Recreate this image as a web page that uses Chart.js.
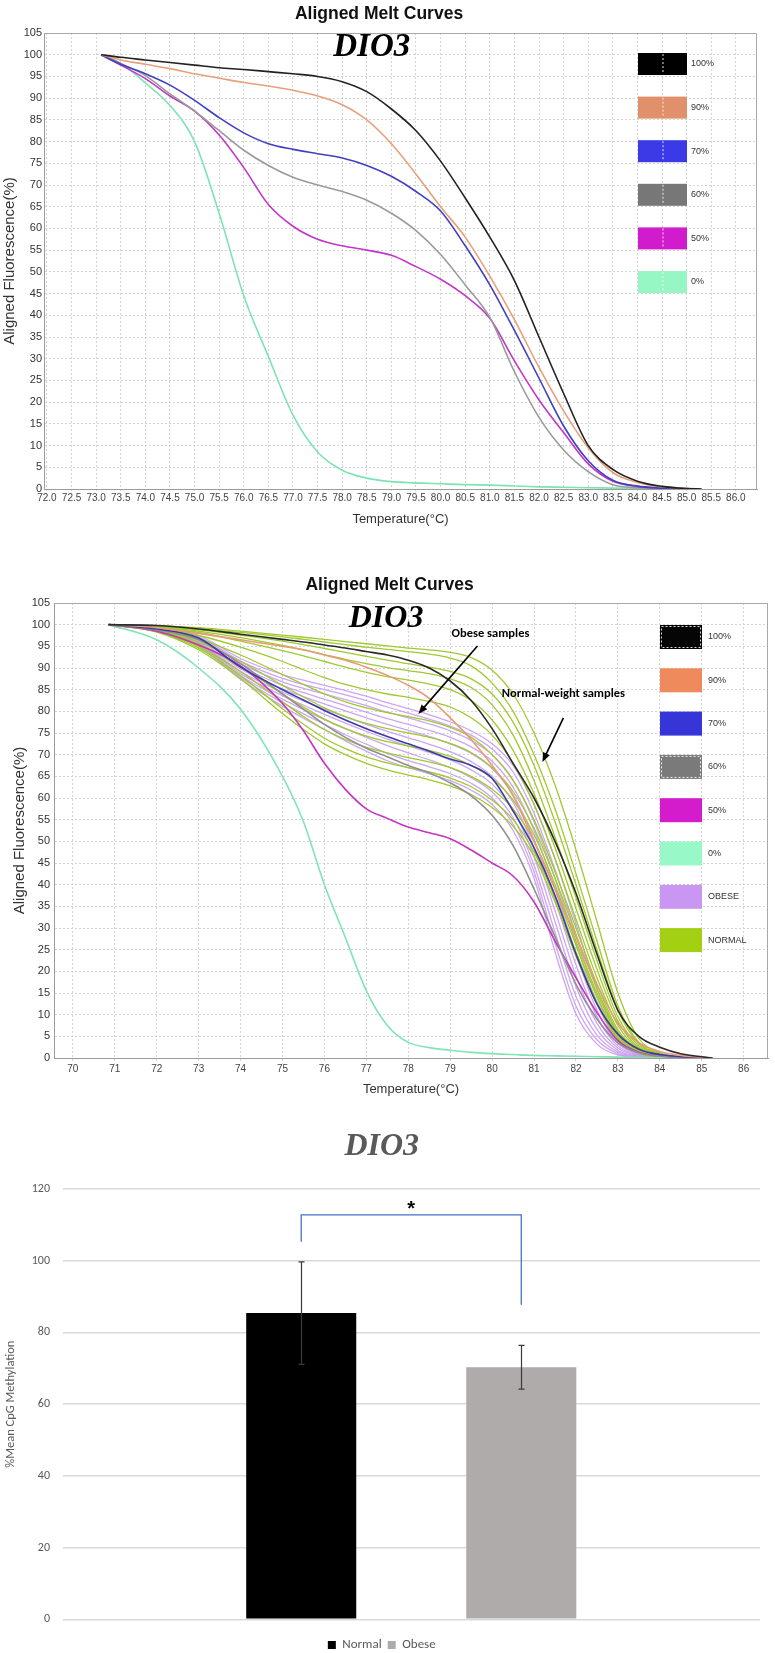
<!DOCTYPE html>
<html>
<head>
<meta charset="utf-8">
<script src="https://cdn.jsdelivr.net/npm/chart.js@4/dist/chart.umd.min.js"></script>
<style>
  html, body { margin: 0; padding: 0; background: #fff; overflow: hidden; }
  #page { position: relative; width: 775px; height: 1653px; }
  .panel { position: absolute; left: 0; }
</style>
</head>
<body>
<div id="page">
  <div class="panel" style="top:0"><canvas id="meltStd" width="775" height="530"></canvas></div>
  <div class="panel" style="top:560px"><canvas id="meltSamples" width="775" height="540"></canvas></div>
  <div class="panel" style="top:1110px"><canvas id="methBars" width="775" height="560"></canvas></div>
</div>
<script>
// ---- top panel: standards (temperature in °C, aligned fluorescence in %)
const tempsA = [73.1, 73.5, 74, 74.5, 75, 75.5, 76, 76.5, 77, 77.5, 78, 78.5, 79, 79.5, 80, 80.5, 81, 81.5, 82, 82.5, 83, 83.5, 84, 84.5, 85, 85.3];
const stdA100 = [100, 99.4, 98.8, 98.2, 97.6, 97, 96.6, 96.1, 95.6, 95, 93.8, 91.5, 87.5, 82.5, 75.5, 67, 58, 48, 35, 22, 10, 4.5, 1.8, 0.6, 0.1, 0];
const stdA90 = [100, 98.8, 97.8, 96.8, 95.6, 94.6, 93.6, 92.8, 91.8, 90.5, 88.5, 85, 79.5, 72.5, 65, 58, 49, 39, 28, 18, 9.5, 3.8, 1.5, 0.5, 0.1, 0];
const stdA70 = [100, 97.8, 95.6, 93, 89.5, 85.5, 82, 79.5, 78.2, 77.2, 76.2, 74.5, 72, 68.5, 64, 56, 47, 36.5, 25.5, 14.5, 6.5, 2, 0.6, 0.2, 0, 0];
const stdA60 = [100, 98, 95.2, 91, 87, 82.5, 78, 74.5, 71.8, 70, 68.5, 66.5, 63.5, 59.5, 54, 47, 39.5, 27, 16.5, 9, 4, 1, 0.3, 0.1, 0, 0];
const stdA50 = [100, 97.6, 94.5, 90.5, 87, 81.5, 74, 65.5, 60.5, 57.5, 56, 55, 53.8, 51.2, 48.3, 44.5, 39.3, 29.5, 20.5, 13, 5.8, 1.8, 0.7, 0.3, 0.1, 0];
const stdA0 = [100, 98, 93.5, 88.3, 80, 63.5, 44.5, 30.5, 17, 8.5, 4.3, 2.5, 1.7, 1.4, 1.2, 1, 0.9, 0.7, 0.5, 0.4, 0.3, 0.2, 0.1, 0, 0, 0];
const tickTempsA = [72, 72.5, 73, 73.5, 74, 74.5, 75, 75.5, 76, 76.5, 77, 77.5, 78, 78.5, 79, 79.5, 80, 80.5, 81, 81.5, 82, 82.5, 83, 83.5, 84, 84.5, 85, 85.5, 86];

// ---- middle panel: standards plus patient samples
const tempsB = [70.85, 72, 73, 74, 75, 75.5, 76, 76.5, 77, 77.5, 78, 78.5, 79, 79.5, 80, 80.5, 81, 81.5, 82, 82.5, 83, 83.5, 84, 84.5, 85.25];
const stdB100 = [100, 99.8, 99, 97.8, 96.6, 96, 95.3, 94.6, 93.8, 93, 91.8, 90, 87, 82.5, 76, 68, 60, 50, 38, 24, 11, 5, 2.5, 1, 0];
const stdB90 = [100, 99.3, 98, 96.5, 95, 94.2, 93, 91.8, 90.2, 88.3, 86, 83, 78.5, 73.5, 67.5, 60.5, 50, 39, 28, 17, 8, 3.5, 1.5, 0.6, 0];
const stdB70 = [100, 99, 96.9, 90.2, 85, 82.6, 80.2, 78, 76, 74.2, 72.5, 70.8, 69, 67.5, 64.5, 57, 48.5, 37.5, 24, 12.5, 5.5, 2, 0.8, 0.3, 0];
const stdB60 = [100, 98.8, 96.5, 91, 84, 80.5, 77, 74, 71.5, 69.5, 67.5, 65.8, 63.5, 60.5, 56, 49, 39, 28, 17, 9, 3.5, 1.2, 0.4, 0.1, 0];
const stdB50 = [100, 98.5, 95.3, 90.5, 81.8, 75.5, 68, 62, 57.5, 55.3, 53.3, 52, 50.6, 48, 45, 42, 36, 27, 18.5, 10.5, 4, 1.3, 0.5, 0.2, 0];
const stdB0 = [100, 96.5, 90, 80.5, 65, 54.5, 40, 27.8, 15.5, 7.5, 3.6, 2.4, 1.8, 1.3, 1, 0.8, 0.6, 0.5, 0.4, 0.3, 0.2, 0.1, 0.05, 0, 0];
const normalRuns = [
  [100, 99.8, 99.3, 98.5, 97.6, 97.1, 96.6, 96.1, 95.6, 95.1, 94.6, 94.2, 93.6, 92.4, 89.5, 84, 75, 63, 48, 31.5, 15, 4.5, 1.2, 0.3, 0],
  [100, 99.7, 99.1, 98.2, 97.2, 96.6, 96, 95.4, 94.8, 94.3, 93.8, 93.2, 92.3, 90.5, 86.5, 80, 70, 57.5, 42.5, 27, 12, 3.6, 1, 0.2, 0],
  [100, 99.6, 98.8, 97.6, 96.2, 95.4, 94.5, 93.6, 92.7, 91.8, 91, 90.2, 89.2, 87.5, 84, 77.5, 67.5, 54.5, 40, 25, 11, 3.2, 0.9, 0.2, 0],
  [100, 99.5, 98.5, 97, 95.2, 94.2, 93.1, 92, 91, 90.1, 89.4, 88.7, 87.5, 85.5, 81.5, 74.5, 64, 51, 37, 22.5, 9.5, 2.8, 0.8, 0.2, 0],
  [100, 99.4, 98.2, 96.2, 94, 92.8, 91.5, 90.2, 89, 88, 87.2, 86.3, 85, 82.5, 78, 71, 61, 48.5, 34.5, 20.5, 8.5, 2.4, 0.7, 0.2, 0],
  [100, 99.2, 97.5, 94.8, 91.5, 89.6, 87.8, 86.2, 85, 84, 83.2, 82.3, 81, 78.5, 74.5, 68, 58.5, 46, 32, 18.5, 7.5, 2.1, 0.6, 0.1, 0],
  [100, 99, 96.8, 93, 88.5, 86.2, 84, 82.2, 80.8, 79.7, 78.8, 77.8, 76.3, 74, 70, 64, 55, 43, 30, 17, 6.5, 1.9, 0.5, 0.1, 0],
  [100, 98.8, 96, 91.5, 86, 83.3, 80.8, 78.8, 77.2, 76, 75, 74, 72.6, 70.5, 67, 61.5, 53, 41.5, 28.5, 16, 6, 1.7, 0.5, 0.1, 0],
  [100, 98.6, 95.5, 90.3, 84, 81, 78.2, 76, 74.3, 73, 72, 71, 69.6, 67.5, 64.5, 59.5, 51.5, 40, 27, 15, 5.5, 1.5, 0.4, 0.1, 0],
  [100, 98.5, 95, 89.2, 82.2, 78.8, 75.8, 73.5, 71.7, 70.4, 69.3, 68.3, 67, 65, 62, 57.5, 50, 39, 26, 14.2, 5, 1.4, 0.4, 0.1, 0],
  [100, 98.4, 94.6, 88.2, 80.6, 77, 73.8, 71.4, 69.5, 68.1, 67, 66, 64.6, 62.6, 59.5, 55, 47.5, 37, 24.5, 13, 4.5, 1.2, 0.3, 0.1, 0],
  [100, 98.3, 94.2, 87.5, 79.5, 75.8, 72.5, 70, 68, 66.5, 65.3, 64.2, 62.8, 60.8, 57.8, 53.5, 46.5, 36, 23.5, 12.5, 4.2, 1.1, 0.3, 0.1, 0]
];
const obeseRuns = [
  [100, 99.4, 97.5, 92.2, 88.5, 87.2, 86, 84.8, 83.5, 82, 80.6, 79.2, 77.6, 75.5, 72.5, 67.5, 58.5, 46, 31, 16, 5.5, 1.3, 0.3, 0.1, 0],
  [100, 99.3, 97.2, 91.6, 87.6, 86.2, 85, 83.8, 82.5, 81, 79.6, 78.2, 76.6, 74.5, 71.3, 66, 56.5, 43.5, 28.5, 14, 4.6, 1.1, 0.3, 0.1, 0],
  [100, 99.2, 96.9, 91, 86.8, 85.3, 84, 82.7, 81.3, 79.8, 78.5, 77.1, 75.5, 73.3, 70, 64.2, 54.5, 41.5, 26.5, 12.6, 4, 0.9, 0.2, 0, 0],
  [100, 99.1, 96.6, 90.4, 86, 84.3, 82.8, 81.3, 79.8, 78.3, 77, 75.6, 74, 71.8, 68.5, 62.5, 52.5, 39, 24, 11, 3.4, 0.8, 0.2, 0, 0],
  [100, 99, 96.3, 89.8, 85.2, 83.4, 81.7, 80.1, 78.5, 77, 75.6, 74.2, 72.5, 70.3, 66.8, 60.8, 50.5, 36.5, 21.5, 9.5, 2.8, 0.6, 0.1, 0, 0],
  [100, 98.9, 96, 89.2, 84.4, 82.4, 80.5, 78.7, 77, 75.4, 73.9, 72.4, 70.7, 68.4, 65, 59, 48.5, 34, 19, 8, 2.3, 0.5, 0.1, 0, 0],
  [100, 98.8, 95.8, 88.7, 83.6, 81.4, 79.3, 77.3, 75.4, 73.6, 72, 70.5, 68.8, 66.5, 63.2, 57.2, 46.5, 31.5, 16.5, 6.6, 1.8, 0.4, 0.1, 0, 0],
  [100, 98.7, 95.5, 88.2, 82.8, 80.4, 78.1, 76, 74, 72.1, 70.4, 68.8, 67, 64.7, 61.4, 55.5, 44.5, 29, 14.2, 5.3, 1.4, 0.3, 0, 0, 0],
  [100, 98.6, 95.3, 87.8, 82, 79.4, 77, 74.6, 72.4, 70.3, 68.6, 67.2, 65.6, 63.4, 60, 54, 43, 26.5, 12, 4.2, 1, 0.2, 0, 0, 0],
  [100, 98.5, 95, 87.4, 81.2, 78.4, 75.8, 73.2, 70.8, 68.6, 67, 65.6, 64, 61.8, 58.5, 52.5, 41.5, 24.5, 10.2, 3.2, 0.7, 0.1, 0, 0, 0]
];
const tickTempsB = [70, 71, 72, 73, 74, 75, 76, 77, 78, 79, 80, 81, 82, 83, 84, 85, 86];

const stdLabels = ['100%', '90%', '70%', '60%', '50%', '0%'];
const sampleLabels = ['100%', '90%', '70%', '60%', '50%', '0%', 'OBESE', 'NORMAL'];

// ---- bottom panel: mean CpG methylation
const groups = ['Normal', 'Obese'];
const meanMethylation = [85.4, 70.3];
const errMethylation = [14.3, 6.1];
const bracketLevels = [105.3, 112.8, 87.7]; // left foot, top, right foot

const sans = "'Liberation Sans', Arial, sans-serif";
const serif = "'Liberation Serif', 'Times New Roman', serif";
const calibriLike = "Carlito, Lato, 'Liberation Sans', sans-serif";
Chart.defaults.font.family = sans;
Chart.defaults.animation = false;

function curve(temps, values, color, width) {
  return {
    data: temps.map((t, i) => ({ x: t, y: values[i] })),
    borderColor: color,
    borderWidth: width,
    pointRadius: 0,
    fill: false,
    cubicInterpolationMode: 'monotone'
  };
}

const frame = {
  id: 'frame',
  afterDraw(chart) {
    const { ctx, chartArea: a } = chart;
    ctx.save();
    ctx.strokeStyle = '#a8a8a8';
    ctx.lineWidth = 1;
    ctx.beginPath();
    ctx.moveTo(a.left, a.top + 0.5);
    ctx.lineTo(a.right - 0.5, a.top + 0.5);
    ctx.lineTo(a.right - 0.5, a.bottom);
    ctx.stroke();
    ctx.restore();
  }
};

function boxLegend(labels, colors, spec) {
  return {
    id: 'boxLegend',
    afterDraw(chart) {
      const { ctx, chartArea } = chart;
      ctx.save();
      labels.forEach((label, i) => {
        const x = chartArea.right - spec.right;
        const y = chartArea.top + spec.top + i * spec.step;
        ctx.fillStyle = colors[i];
        ctx.fillRect(x, y, spec.w, spec.h);
        ctx.strokeStyle = 'rgba(255,255,255,0.85)';
        ctx.lineWidth = 1;
        ctx.setLineDash([2, 2]);
        if (spec.centerLine) {
          ctx.beginPath();
          ctx.moveTo(x + spec.w / 2 + 0.5, y + 1);
          ctx.lineTo(x + spec.w / 2 + 0.5, y + spec.h - 1);
          ctx.stroke();
        }
        if (spec.dotted.includes(i)) {
          ctx.strokeRect(x + 1.5, y + 1.5, spec.w - 3, spec.h - 3);
        }
        ctx.setLineDash([]);
        ctx.fillStyle = '#333';
        ctx.font = spec.font;
        ctx.textAlign = 'left';
        ctx.textBaseline = 'middle';
        ctx.fillText(label, x + spec.w + spec.gap, y + spec.h / 2);
      });
      ctx.restore();
    }
  };
}

function notes(texts, arrows) {
  return {
    id: 'notes',
    afterDatasetsDraw(chart) {
      const { ctx, scales: { x, y } } = chart;
      ctx.save();
      texts.forEach(n => {
        ctx.font = n.font;
        ctx.fillStyle = '#000';
        ctx.textAlign = 'center';
        ctx.textBaseline = 'middle';
        ctx.fillText(n.text, x.getPixelForValue(n.at[0]), y.getPixelForValue(n.at[1]));
      });
      arrows.forEach(a => {
        const x1 = x.getPixelForValue(a.from[0]), y1 = y.getPixelForValue(a.from[1]);
        const x2 = x.getPixelForValue(a.to[0]), y2 = y.getPixelForValue(a.to[1]);
        const ang = Math.atan2(y2 - y1, x2 - x1);
        ctx.strokeStyle = '#000';
        ctx.fillStyle = '#000';
        ctx.lineWidth = 1.6;
        ctx.beginPath();
        ctx.moveTo(x1, y1);
        ctx.lineTo(x2 - 7 * Math.cos(ang), y2 - 7 * Math.sin(ang));
        ctx.stroke();
        ctx.beginPath();
        ctx.moveTo(x2, y2);
        ctx.lineTo(x2 - 10 * Math.cos(ang - 0.38), y2 - 10 * Math.sin(ang - 0.38));
        ctx.lineTo(x2 - 10 * Math.cos(ang + 0.38), y2 - 10 * Math.sin(ang + 0.38));
        ctx.closePath();
        ctx.fill();
      });
      ctx.restore();
    }
  };
}

function meltOptions(cfg) {
  return {
    responsive: false,
    animation: false,
    events: [],
    layout: { padding: cfg.pad },
    plugins: {
      legend: { display: false },
      tooltip: { enabled: false },
      title: {
        display: true,
        text: 'Aligned Melt Curves',
        color: '#111',
        font: { size: 17.5, weight: 'bold' },
        padding: cfg.titlePad
      }
    },
    scales: {
      x: {
        type: 'linear',
        min: cfg.xMin,
        max: cfg.xMax,
        afterBuildTicks: axis => { axis.ticks = cfg.xTicks.map(v => ({ value: v })); },
        afterFit: axis => { axis.height = cfg.xHeight; },
        ticks: {
          callback: cfg.xLabel,
          autoSkip: false,
          maxRotation: 0,
          color: '#444',
          font: { size: 10 },
          padding: cfg.xTickPad
        },
        grid: { color: '#d4d4d4', tickLength: cfg.xTickLen },
        border: { color: '#9c9c9c', dash: [2, 2] },
        title: { display: true, text: 'Temperature(°C)', color: '#333', font: { size: 13 }, padding: 0 }
      },
      y: {
        min: 0,
        max: 105,
        afterFit: axis => { axis.width = cfg.yWidth; },
        ticks: { stepSize: 5, autoSkip: false, color: '#333', font: { size: 11 }, padding: cfg.yTickPad },
        grid: { color: '#d4d4d4', drawTicks: false },
        border: { color: '#9c9c9c', dash: [2, 2] },
        title: { display: true, text: 'Aligned Fluorescence(%)', color: '#333', font: { size: 15 }, padding: 0 }
      }
    }
  };
}

// ---------- chart 1
const colorsA = ['#222222', '#e8a07a', '#4040c0', '#9a9a9a', '#c236c8', '#7ee3b2'];
const legendColorsA = ['#000000', '#e0906a', '#3a3ae6', '#777777', '#d01ccc', '#96f7c4'];
const valuesA = [stdA100, stdA90, stdA70, stdA60, stdA50, stdA0];

new Chart(document.getElementById('meltStd'), {
  type: 'line',
  data: { datasets: valuesA.map((v, i) => curve(tempsA, v, colorsA[i], 1.6)) },
  options: meltOptions({
    pad: { left: 1, right: 18, top: 0, bottom: 3.2 },
    titlePad: { top: 3.7, bottom: 8.3 },
    xMin: 71.94, xMax: 86.43, xTicks: tickTempsA,
    xLabel: v => Number(v).toFixed(1),
    xHeight: 37.8, xTickPad: 1, xTickLen: 2,
    yWidth: 43, yTickPad: 2
  }),
  plugins: [
    frame,
    boxLegend(stdLabels, legendColorsA, { right: 119, top: 20, step: 43.6, w: 49, h: 22, gap: 4, font: '9px ' + sans, centerLine: true, dotted: [] }),
    notes([{ text: 'DIO3', at: [78.6, 101.6], font: 'italic bold 33px ' + serif }], [])
  ]
});

// ---------- chart 2
const colorsB = ['#2a2a2a', '#e89a78', '#3a3aa8', '#8f8f8f', '#c533c0', '#80e4b4'];
const legendColorsB = ['#050505', '#ee8a5c', '#3535d8', '#7a7a7a', '#d41ccc', '#98f8c8', '#c996f2', '#a3d012'];
const valuesB = [stdB100, stdB90, stdB70, stdB60, stdB50, stdB0];
const obeseColor = 'rgba(200,155,238,0.9)';
const normalColor = '#9fc92e';

const datasetsB = valuesB.map((v, i) => curve(tempsB, v, colorsB[i], 1.6))
  .concat(normalRuns.map(v => curve(tempsB, v, normalColor, 1.3)))
  .concat(obeseRuns.map(v => curve(tempsB, v, obeseColor, 1.3)));

new Chart(document.getElementById('meltSamples'), {
  type: 'line',
  data: { datasets: datasetsB },
  options: meltOptions({
    pad: { left: 11, right: 7, top: 0, bottom: 3.2 },
    titlePad: { top: 14.5, bottom: 7.5 },
    xMin: 69.55, xMax: 86.58, xTicks: tickTempsB,
    xLabel: v => String(v),
    xHeight: 38.8, xTickPad: 2, xTickLen: 3,
    yWidth: 43, yTickPad: 4
  }),
  plugins: [
    frame,
    boxLegend(sampleLabels, legendColorsB, { right: 108, top: 22, step: 43.3, w: 42, h: 24, gap: 6, font: '9px ' + sans, centerLine: false, dotted: [0, 3] }),
    notes([
      { text: 'DIO3', at: [77.47, 101.4], font: 'italic bold 32px ' + serif },
      { text: 'Obese samples', at: [79.96, 97.9], font: 'bold 12.5px ' + calibriLike },
      { text: 'Normal-weight samples', at: [81.7, 84.0], font: 'bold 12.5px ' + calibriLike }
    ], [
      { from: [79.65, 95.1], to: [78.24, 79.4] },
      { from: [81.7, 78.5], to: [81.2, 68.3] }
    ])
  ]
});

// ---------- chart 3
const barColors = ['#000000', '#aeabaa'];

const errorBars = {
  id: 'errorBars',
  afterDatasetsDraw(chart) {
    const { ctx, scales: { y } } = chart;
    const xs = groups.map((g, i) => chart.getDatasetMeta(i).data[0].x);
    ctx.save();
    ctx.strokeStyle = '#3a3a3a';
    ctx.lineWidth = 1.2;
    xs.forEach((bx, i) => {
      const cx = Math.round(bx) + 0.5;
      const hi = y.getPixelForValue(meanMethylation[i] + errMethylation[i]);
      const lo = y.getPixelForValue(meanMethylation[i] - errMethylation[i]);
      ctx.beginPath();
      ctx.moveTo(cx, hi); ctx.lineTo(cx, lo);
      ctx.moveTo(cx - 3, hi); ctx.lineTo(cx + 3, hi);
      ctx.moveTo(cx - 3, lo); ctx.lineTo(cx + 3, lo);
      ctx.stroke();
    });
    // significance bracket
    const top = y.getPixelForValue(bracketLevels[1]);
    ctx.strokeStyle = '#4472c4';
    ctx.lineWidth = 1.3;
    ctx.beginPath();
    ctx.moveTo(xs[0], y.getPixelForValue(bracketLevels[0]));
    ctx.lineTo(xs[0], top);
    ctx.lineTo(xs[1], top);
    ctx.lineTo(xs[1], y.getPixelForValue(bracketLevels[2]));
    ctx.stroke();
    ctx.fillStyle = '#000';
    ctx.font = 'bold 20px ' + sans;
    ctx.textAlign = 'center';
    ctx.textBaseline = 'alphabetic';
    ctx.fillText('*', (xs[0] + xs[1]) / 2, top);
    ctx.restore();
  }
};

new Chart(document.getElementById('methBars'), {
  type: 'bar',
  data: {
    labels: [''],
    datasets: groups.map((g, i) => ({
      label: g,
      data: [meanMethylation[i]],
      backgroundColor: barColors[i],
      categoryPercentage: 0.631,
      barPercentage: 0.5
    }))
  },
  options: {
    responsive: false,
    animation: false,
    events: [],
    layout: { padding: { left: 3.5, right: 15, top: 0, bottom: 8.5 } },
    plugins: {
      tooltip: { enabled: false },
      title: {
        display: true,
        text: 'DIO3',
        color: '#595959',
        font: { family: serif, size: 32, style: 'italic', weight: 'bold' },
        padding: { top: 17.8, bottom: 22.8 }
      },
      legend: {
        position: 'bottom',
        labels: { boxWidth: 8, boxHeight: 8, padding: 6, color: '#595959', font: { family: calibriLike, size: 13 } }
      }
    },
    scales: {
      x: {
        grid: { display: false },
        border: { display: false },
        ticks: { display: false },
        afterFit: axis => { axis.height = 13.2; }
      },
      y: {
        min: 0,
        max: 120,
        afterFit: axis => { axis.width = 59; },
        ticks: { stepSize: 20, color: '#595959', font: { family: calibriLike, size: 12 }, padding: 12.5 },
        grid: { color: '#d9d9d9', lineWidth: 1.5, drawTicks: false },
        border: { display: false },
        title: { display: true, text: '%Mean CpG Methylation', color: '#595959', font: { family: calibriLike, size: 12.5 }, padding: 0 }
      }
    }
  },
  plugins: [errorBars]
});
</script>
</body>
</html>
